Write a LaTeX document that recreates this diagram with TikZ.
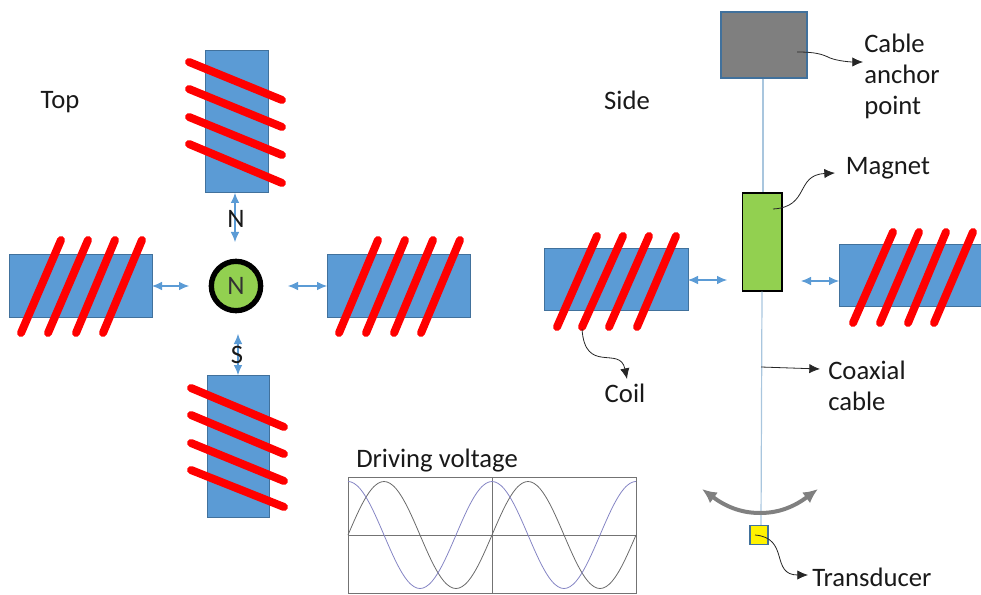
\documentclass[tikz,border=0pt]{standalone}
\usepackage{fontspec}
\setmainfont{Carlito}
\usetikzlibrary{arrows.meta}
\definecolor{coilblue}{HTML}{5B9BD5}
\definecolor{coiledge}{HTML}{41719C}
\definecolor{wirered}{HTML}{FF0000}
\definecolor{magnetgreen}{HTML}{92D050}
\definecolor{anchorgray}{HTML}{7F7F7F}
\definecolor{cablecol}{HTML}{A9C6DE}
\definecolor{curvegray}{HTML}{6A6A6A}
\definecolor{curveblue}{HTML}{8585C4}
\definecolor{swinggray}{HTML}{808080}
\tikzset{
  coilbar/.style={draw=coiledge,fill=coilblue,line width=0.75pt,inner sep=0pt,outer sep=0pt},
  wire/.style={draw=wirered,line width=6pt,line cap=round},
  gapmark/.style={draw=coilblue,line width=0.8pt,{Latex[length=7.5pt,width=6.5pt]}-{Latex[length=7.5pt,width=6.5pt]}},
  cablewire/.style={draw=cablecol,line width=0.9pt},
  callout/.style={draw=black!85,line width=0.6pt,-{Latex[length=8pt,width=7pt]}},
  lab/.style={font=\fontsize{20pt}{23.25pt}\selectfont,inner sep=0pt,text=black!90},
  lableft/.style={lab,anchor=west,align=left},
  chartline/.style={draw=black!55,line width=0.7pt},
  tracegray/.style={draw=curvegray,line width=0.6pt},
  traceblue/.style={draw=curveblue,line width=0.6pt}
}
\begin{document}
\begin{tikzpicture}[x=0.75pt,y=-0.75pt]
\useasboundingbox (0,0) rectangle (981,595);
% ---- top view
\node[coilbar,minimum width=47.25pt,minimum height=106.5pt] (topcoil) at (236.5,122) {};
\node[coilbar,minimum width=46.5pt,minimum height=106.5pt] (botcoil) at (238,446) {};
\node[coilbar,minimum width=107.25pt,minimum height=46.5pt] (leftcoil) at (80.5,286) {};
\node[coilbar,minimum width=107.25pt,minimum height=46.5pt] (rightcoil) at (398.5,286) {};
\foreach \l/\r in {62/100,89/127,117/155,144/183} \draw[wire] (189,\l) -- (282,\r);
\foreach \l/\r in {388/427,415/454,443/481,470/507} \draw[wire] (191,\l) -- (284,\r);
\foreach \b/\t in {21/61,48/88,76/115,103/142} \draw[wire] (\b,333) -- (\t,240);
\foreach \b/\t in {339/378,366/405,394/433,421/460} \draw[wire] (\b,333) -- (\t,240);
\node[circle,draw=black,line width=4pt,fill=magnetgreen,minimum size=37pt,inner sep=0pt,font=\fontsize{20pt}{23pt}\selectfont,text=black!80] (rotor) at (236,286) {N};
\coordinate (gapT) at (235,242);
\coordinate (gapB) at (238,334);
\coordinate (gapL) at (189,286);
\coordinate (gapR) at (288,286);
\draw[gapmark] (topcoil.south -| gapT) -- (gapT);
\draw[gapmark] (gapB) -- (botcoil.north -| gapB);
\draw[gapmark] (leftcoil.east) -- (gapL);
\draw[gapmark] (gapR) -- (rightcoil.west);
\node[lab] (labN) at (236,219) {N};
\node[lab] (labS) at (237,355) {S};
\node[lab] (labTop) at (60,102) {Top};
\node[lab] (labSide) at (627,100) {Side};
% ---- side view
\node[coilbar,minimum width=108pt,minimum height=45.75pt] (sideL) at (616,279.5) {};
\node[coilbar,minimum width=108pt,minimum height=45.75pt,anchor=west] (sideR) at (839,275.5) {};
\foreach \b/\t in {557/597,582/623,609/649,637/676} \draw[wire] (\b,327) -- (\t,236);
\foreach \b/\t in {853/893,880/919,908/946,934/973} \draw[wire] (\b,323) -- (\t,232);
\node[draw=coiledge,fill=anchorgray,line width=0.9pt,minimum width=64.5pt,minimum height=49.5pt,inner sep=0pt] (anchorbox) at (764,45) {};
\node[draw=black,fill=magnetgreen,line width=1pt,minimum width=29.5pt,minimum height=73.5pt,inner sep=0pt] (magnet) at (762.3,242) {};
\node[draw=coiledge,fill=yellow,line width=0.8pt,minimum width=13.5pt,minimum height=14.5pt,inner sep=0pt] (transducer) at (759,535) {};
\draw[cablewire] (anchorbox.south -| 763,0) -- (magnet.north -| 763,0);
\draw[cablewire] (magnet.south -| 762,0) -- (transducer.north -| 761,0);
\coordinate (sgapL) at (727,280);
\coordinate (sgapR) at (801,281);
\draw[gapmark] (sideL.east |- sgapL) -- (sgapL);
\draw[gapmark] (sgapR) -- (sideR.west |- sgapR);
% swing arrow
\coordinate (swingL) at (702,489);
\coordinate (swingR) at (818,489);
\draw[draw=swinggray,line width=3pt,{Latex[length=11pt,width=10pt]}-{Latex[length=11pt,width=10pt]}] (swingL) .. controls (725,506) and (740,513) .. (760,513) .. controls (780,513) and (795,506) .. (swingR);
% ---- labels and callouts
\node[lableft] (labAnchor) at (864,76) {Cable\\anchor\\point};
\node[lableft] (labMagnet) at (845.5,168) {Magnet};
\node[lab] (labCoil) at (625,393) {Coil};
\node[lableft] (labCoax) at (828,385.5) {Coaxial\\cable};
\node[lableft] (labTrans) at (812,577) {Transducer};
\node[lableft] (labDrive) at (356,461) {Driving voltage};
\coordinate (anchorStart) at (797,52);
\coordinate (anchorEnd) at (863,62);
\coordinate (magnetStart) at (773,209);
\coordinate (magnetEnd) at (835,173);
\coordinate (coilStart) at (582,329);
\coordinate (coilEnd) at (627,379);
\coordinate (coaxStart) at (761,367);
\coordinate (coaxEnd) at (820,369);
\coordinate (transStart) at (755,535);
\coordinate (transEnd) at (808,575);
\draw[callout] (anchorStart) .. controls (815,52) and (822,54) .. (830,58) .. controls (838,61) and (850,62) .. (anchorEnd);
\draw[callout] (magnetStart) .. controls (810,207) and (795,175) .. (magnetEnd);
\draw[callout] (coilStart) .. controls (585,375) and (620,345) .. (coilEnd);
\draw[callout] (coaxStart) -- (coaxEnd);
\draw[callout] (transStart) .. controls (790,538) and (770,575) .. (transEnd);
% ---- driving voltage chart
\draw[chartline] (348,477) rectangle (636,593);
\draw[chartline] (348,535) -- (636,535);
\draw[chartline] (492,477) -- (492,593);
\draw[tracegray] plot[smooth,domain=0:288,samples=97] ({348+\x},{535-53.5*sin(\x*2.5)});
\draw[traceblue] plot[smooth,domain=0:288,samples=97] ({348+\x},{535-53.5*cos(\x*2.5)});
\end{tikzpicture}
\end{document}
